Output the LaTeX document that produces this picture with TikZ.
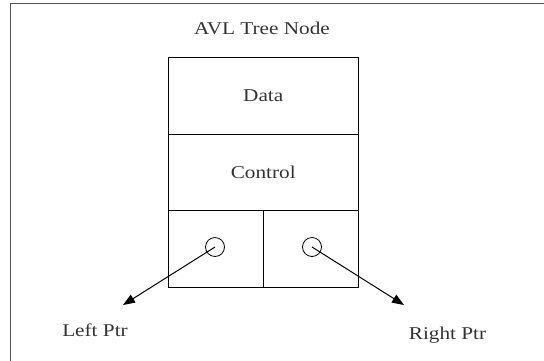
\documentclass[tikz,border=0pt]{standalone}
\usepackage{fontspec}
\setmainfont[FakeStretch=1.18]{Liberation Serif}
\usetikzlibrary{arrows.meta}
\definecolor{txt}{HTML}{333333}
\definecolor{frame}{HTML}{555555}
\begin{document}
\begin{tikzpicture}[x=1pt,y=-1pt,
  lbl/.style={font=\fontsize{18}{20}\selectfont,text=txt,inner sep=0pt},
  cell/.style={draw=black,line width=1pt,minimum width=190.5pt,minimum height=76.5pt,inner sep=0pt,
    font=\fontsize{18}{20}\selectfont,text=txt},
  half/.style={draw=black,line width=1pt,minimum width=95.25pt,minimum height=77pt,inner sep=0pt},
  ptr/.style={draw=black,line width=0.8pt,circle,minimum size=19pt,inner sep=0pt},
  conn/.style={line width=1pt,-{Triangle[length=12pt,width=9pt]}}]
\useasboundingbox (0,0) rectangle (544,360);
% frame
\coordinate (fbl) at (10,362);
\coordinate (ftl) at (10,3);
\coordinate (ftr) at (546,3);
\draw[frame,line width=1pt] (fbl) -- (ftl) -- (ftr);
% title
\node[lbl] (title) at (262,28) {AVL Tree Node};
% structure
\node[cell,anchor=north west] (data) at (167.5,57) {Data};
\node[cell,anchor=north west] (control) at (167.5,133.5) {Control};
\node[half,anchor=north west] (lcell) at (167.5,210) {};
\node[half,anchor=north west] (rcell) at (262.75,210) {};
% pointer circles
\node[ptr] (lp) at (215,247) {};
\node[ptr] (rp) at (312,247) {};
% targets
\coordinate (lt) at (123,305);
\coordinate (rt) at (404,305);
\draw[conn] (lp.center) -- (lt);
\draw[conn] (rp.center) -- (rt);
% labels
\node[lbl] (llab) at (95,330) {Left Ptr};
\node[lbl] (rlab) at (447.5,335) {Right Ptr};
\end{tikzpicture}
\end{document}
